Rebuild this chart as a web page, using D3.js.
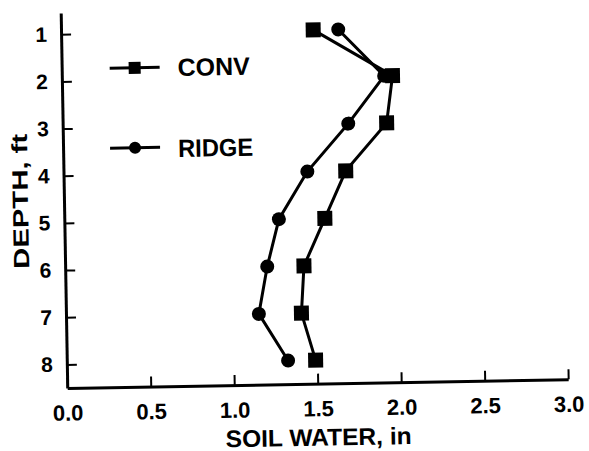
<!DOCTYPE html>
<html>
<head>
<meta charset="utf-8">
<script src="https://cdn.jsdelivr.net/npm/d3@7"></script>
<style>
  body { margin: 0; background: #fff; }
  text { font-family: "Liberation Sans", Arial, sans-serif; font-weight: bold; fill: #000; }
</style>
</head>
<body>
<div class="chart"></div>
<script>
// data
var depths = [1, 2, 3, 4, 5, 6, 7, 8];
var convWater = [1.51, 1.98, 1.94, 1.69, 1.56, 1.43, 1.41, 1.49];
var ridgeWater = [1.66, 1.93, 1.71, 1.46, 1.285, 1.21, 1.155, 1.325];
var xTicks = [0, 0.5, 1.0, 1.5, 2.0, 2.5, 3.0];
var yTicks = [1, 2, 3, 4, 5, 6, 7, 8];

var svgWidth = 589, svgHeight = 451;

var svg = d3.select(".chart")
  .append("svg")
  .attr("width", svgWidth)
  .attr("height", svgHeight);

// the original is a slightly tilted scan
var chartGroup = svg.append("g")
  .attr("transform", "rotate(-1, 295, 200)");

var xScale = d3.scaleLinear()
  .domain([0, 3])
  .range([64, 565]);

var yScale = d3.scaleLinear()
  .domain([0.55, 8.5])
  .range([9, 384]);

// axes
var xAxis = d3.axisBottom(xScale)
  .tickValues(xTicks)
  .tickFormat(d3.format(".1f"))
  .tickSizeInner(-10)
  .tickSizeOuter(0)
  .tickPadding(17);

var yAxis = d3.axisLeft(yScale)
  .tickValues(yTicks)
  .tickFormat(d3.format("d"))
  .tickSizeInner(-10)
  .tickSizeOuter(0)
  .tickPadding(14);

var gx = chartGroup.append("g")
  .attr("transform", `translate(0, ${yScale.range()[1]})`)
  .call(xAxis);

var gy = chartGroup.append("g")
  .attr("transform", `translate(${xScale.range()[0]}, 0)`)
  .call(yAxis);

[gx, gy].forEach(function(g) {
  g.select(".domain").attr("stroke", "#000").attr("stroke-width", 3);
  g.selectAll(".tick line").attr("stroke", "#000").attr("stroke-width", 2);
  g.selectAll(".tick text")
    .attr("font-family", "Liberation Sans, Arial, sans-serif")
    .attr("font-weight", "bold")
    .attr("fill", "#000");
});
gx.selectAll(".tick text").attr("font-size", 22);
gy.selectAll(".tick text").attr("font-size", 21);

// series lines
var line = d3.line()
  .x(d => xScale(d.w))
  .y(d => yScale(d.depth));

var ridgeData = depths.map((d, i) => ({ depth: d, w: ridgeWater[i] }));
var convData = depths.map((d, i) => ({ depth: d, w: convWater[i] }));

chartGroup.append("path")
  .datum(ridgeData)
  .attr("d", line)
  .attr("fill", "none")
  .attr("stroke", "#000")
  .attr("stroke-width", 3);

chartGroup.selectAll(".ridge-pt")
  .data(ridgeData)
  .enter()
  .append("circle")
  .attr("class", "ridge-pt")
  .attr("cx", d => xScale(d.w))
  .attr("cy", d => yScale(d.depth))
  .attr("r", 7)
  .attr("fill", "#000");

chartGroup.append("path")
  .datum(convData)
  .attr("d", line)
  .attr("fill", "none")
  .attr("stroke", "#000")
  .attr("stroke-width", 3);

chartGroup.selectAll(".conv-pt")
  .data(convData)
  .enter()
  .append("rect")
  .attr("class", "conv-pt")
  .attr("x", d => xScale(d.w) - 7.5)
  .attr("y", d => yScale(d.depth) - 7.5)
  .attr("width", 15)
  .attr("height", 15)
  .attr("fill", "#000");

// legend
var legend = chartGroup.append("g");

var convKey = legend.append("g").attr("transform", "translate(137, 65)");
convKey.append("line")
  .attr("x1", -25).attr("x2", 25)
  .attr("stroke", "#000").attr("stroke-width", 3);
convKey.append("rect")
  .attr("x", -6).attr("y", -6).attr("width", 12).attr("height", 12)
  .attr("fill", "#000");
convKey.append("text")
  .attr("x", 43).attr("y", 9)
  .attr("font-size", 25)
  .attr("textLength", 72)
  .attr("lengthAdjust", "spacingAndGlyphs")
  .text("CONV");

var ridgeKey = legend.append("g").attr("transform", "translate(136, 145)");
ridgeKey.append("line")
  .attr("x1", -25).attr("x2", 25)
  .attr("stroke", "#000").attr("stroke-width", 3);
ridgeKey.append("circle")
  .attr("r", 6)
  .attr("fill", "#000");
ridgeKey.append("text")
  .attr("x", 43).attr("y", 10)
  .attr("font-size", 25)
  .attr("textLength", 75)
  .attr("lengthAdjust", "spacingAndGlyphs")
  .text("RIDGE");

// axis titles
var xMid = (xScale.range()[0] + xScale.range()[1]) / 2;
var yMid = (yScale.range()[0] + yScale.range()[1]) / 2;

chartGroup.append("text")
  .attr("x", xMid)
  .attr("y", 446)
  .attr("text-anchor", "middle")
  .attr("font-size", 24)
  .attr("textLength", 186)
  .attr("lengthAdjust", "spacingAndGlyphs")
  .text("SOIL WATER, in");

chartGroup.append("text")
  .attr("transform", `translate(28, ${yMid}) rotate(-90)`)
  .attr("text-anchor", "middle")
  .attr("font-size", 22)
  .attr("textLength", 135)
  .attr("lengthAdjust", "spacingAndGlyphs")
  .text("DEPTH, ft");
</script>
</body>
</html>
